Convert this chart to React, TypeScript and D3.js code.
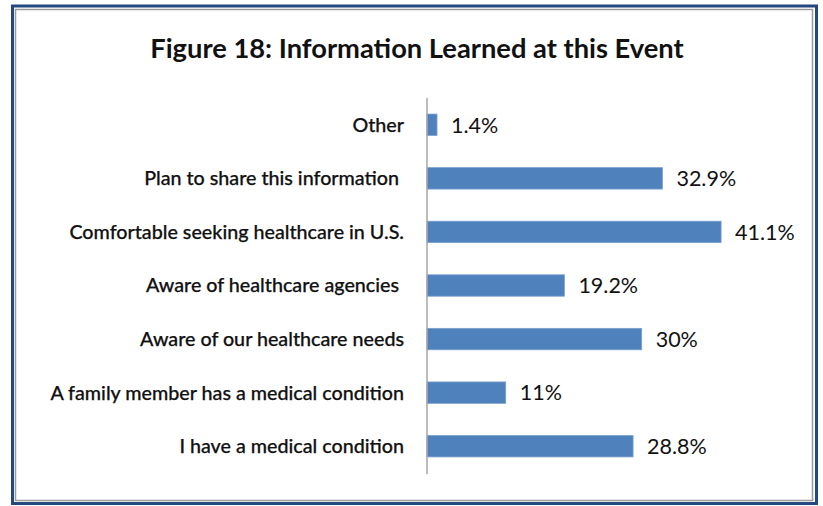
import React from 'react'
import { scaleLinear, scaleBand } from 'd3'

const categories = [
  'Other',
  'Plan to share this information ',
  'Comfortable seeking healthcare in U.S.',
  'Aware of healthcare agencies ',
  'Aware of our healthcare needs',
  'A family member has a medical condition',
  'I have a medical condition',
]
const values = [1.4, 32.9, 41.1, 19.2, 30, 11, 28.8]
const valueLabels = ['1.4%', '32.9%', '41.1%', '19.2%', '30%', '11%', '28.8%']
const title = 'Figure 18: Information Learned at this Event'

const width = 823
const height = 506
const font = 'Lato, "Open Sans", sans-serif'

export default function App() {
  const xScale = scaleLinear().domain([0, 45]).range([427, 749])
  const yScale = scaleBand()
    .domain(categories)
    .range([98, 473])
    .paddingInner(0.6)
    .paddingOuter(0.3)

  return (
    <div style={{ position: 'absolute', left: 0, top: 0 }}>
      <svg width={width} height={height} style={{ display: 'block', background: '#fff' }}>
        {/* double frame */}
        <rect x={12.5} y={6} width={804} height={497.5} fill="none" stroke="#23497e" strokeWidth={3} />
        <rect x={15.5} y={9.5} width={797} height={491} fill="none" stroke="#9a9a9a" strokeWidth={1.5} />

        <text x={417} y={58} textAnchor="middle" fontFamily={font} fontWeight={700} fontSize={27.3} fill="#111">
          {title}
        </text>

        {categories.map((c, i) => (
          <g key={c}>
            <rect
              x={xScale(0)}
              y={yScale(c)}
              width={xScale(values[i]) - xScale(0)}
              height={yScale.bandwidth()}
              fill="#4f81bd"
              stroke="#7ba0d0"
              strokeWidth={0.8}
            />
            <text
              x={404}
              y={yScale(c)! + yScale.bandwidth() / 2}
              dy="0.35em"
              textAnchor="end"
              fontFamily={font}
              fontSize={19.7}
              fontWeight={500}
              fill="#111"
              stroke="#111"
              strokeWidth={0.25}
              style={{ whiteSpace: 'pre' }}
            >
              {c}
            </text>
            <text
              x={xScale(values[i]) + 14}
              y={yScale(c)! + yScale.bandwidth() / 2}
              dy="0.36em"
              fontFamily={font}
              fontSize={21.5}
              fill="#111"
            >
              {valueLabels[i]}
            </text>
          </g>
        ))}

        <line x1={427} x2={427} y1={98} y2={474} stroke="#a6a6a6" strokeWidth={1.5} />
      </svg>
    </div>
  )
}
